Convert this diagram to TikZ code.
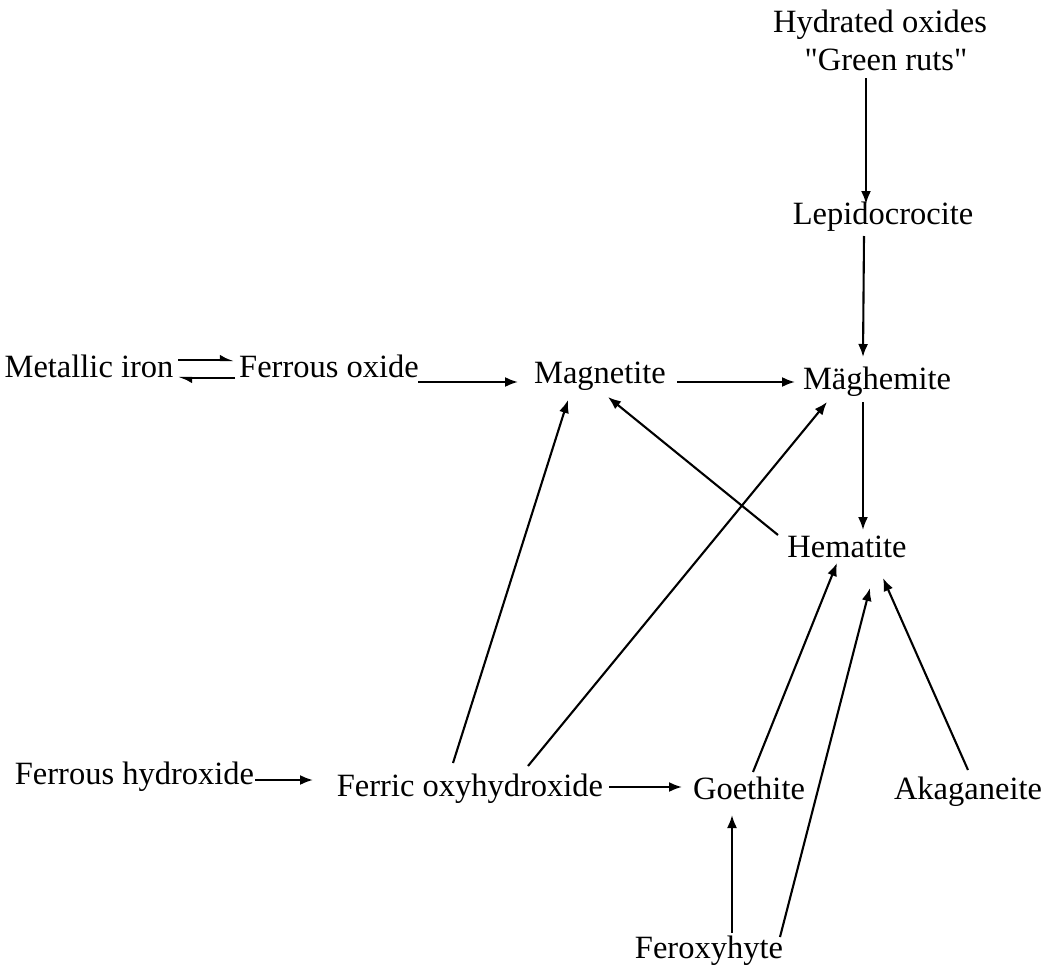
\documentclass[tikz,border=0pt]{standalone}
\usepackage{fontspec}
\setmainfont{Liberation Serif}[Ligatures=TeXOff]
\usetikzlibrary{arrows.meta}
\tikzset{
  lbl/.style={inner sep=0pt, anchor=base, font=\fontsize{32.5}{39}\selectfont},
  arr/.style={line width=2.1pt, -{Latex[length=13pt,width=10pt]}},
  harp/.style={line width=2.1pt, -{Latex[left,length=11pt,width=11pt]}}
}
\begin{document}
\begin{tikzpicture}[x=1pt,y=-1pt]
\useasboundingbox[fill=white] (0,0) rectangle (1050,972);
% nodes
\node[lbl] (hyd)   at (880,32)  {Hydrated oxides};
\node[lbl] (green) at (886,70)  {"Green ruts"};
\node[lbl] (lepi)  at (883,224) {Lepidocrocite};
\node[lbl] (metal) at (89,377)  {Metallic iron};
\node[lbl] (fox)   at (329,377) {Ferrous oxide};
\node[lbl] (magn)  at (600,383) {Magnetite};
\node[lbl] (magh)  at (877,389) {Mäghemite};
\node[lbl] (hem)   at (847,557) {Hematite};
\node[lbl] (fhyd)  at (134.5,784) {Ferrous hydroxide};
\node[lbl] (foh)   at (470,796) {Ferric oxyhydroxide};
\node[lbl] (goe)   at (749,799) {Goethite};
\node[lbl] (aka)   at (968,799) {Akaganeite};
\node[lbl] (ferox) at (709,958) {Feroxyhyte};
% connectors
\draw[arr] ([xshift=-20pt,yshift=-8pt]green.base) -- ([xshift=-17pt,yshift=20pt]lepi.base);
\draw[arr] ([xshift=-19pt,yshift=-12pt]lepi.base) -- ([xshift=-14pt,yshift=32pt]magh.base);
\draw[arr] ([xshift=77pt,yshift=1pt]magn.base) -- ([xshift=-82pt,yshift=7pt]magh.base);
\draw[arr] ([xshift=89pt,yshift=-5pt]fox.base) -- ([xshift=-82pt,yshift=1pt]magn.base);
\draw[arr] ([xshift=-14pt,yshift=-13pt]magh.base) -- ([xshift=16pt,yshift=27pt]hem.base);
\draw[arr] ([xshift=-69pt,yshift=22pt]hem.base) -- ([xshift=8pt,yshift=-14pt]magn.base);
\draw[arr] ([xshift=-17pt,yshift=33pt]foh.base) -- ([xshift=-32pt,yshift=-17pt]magn.base);
\draw[arr] ([xshift=58pt,yshift=30pt]foh.base) -- ([xshift=-50pt,yshift=-13pt]magh.base);
\draw[arr] ([xshift=120.5pt,yshift=4pt]fhyd.base) -- ([xshift=-157pt,yshift=16pt]foh.base);
\draw[arr] ([xshift=139pt,yshift=9pt]foh.base) -- ([xshift=-67pt,yshift=12pt]goe.base);
\draw[arr] ([xshift=4pt,yshift=27pt]goe.base) -- ([xshift=-10pt,yshift=-6pt]hem.base);
\draw[arr] ([xshift=23pt,yshift=25pt]ferox.base) -- ([xshift=-17pt,yshift=-16pt]goe.base);
\draw[arr] ([xshift=71pt,yshift=21pt]ferox.base) -- ([xshift=23pt,yshift=-31pt]hem.base);
\draw[arr] ([xshift=0pt,yshift=29pt]aka.base) -- ([xshift=36pt,yshift=-21pt]hem.base);
% equilibrium
\draw[harp] ([xshift=89pt,yshift=17pt]metal.base) -- ([xshift=-95pt,yshift=17pt]fox.base);
\draw[harp] ([xshift=-94pt,yshift=-1pt]fox.base) -- ([xshift=89pt,yshift=-1pt]metal.base);
\end{tikzpicture}
\end{document}
